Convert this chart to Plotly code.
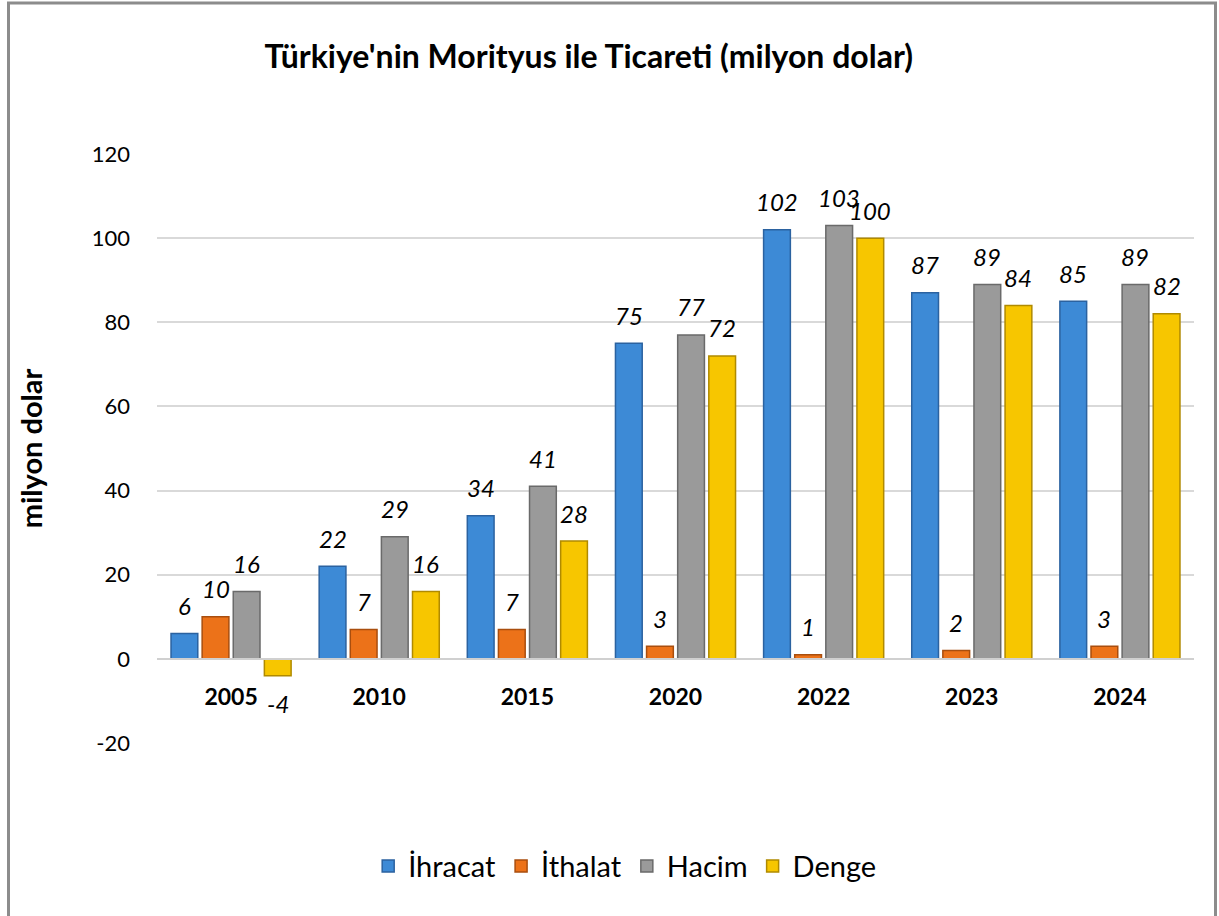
import plotly.graph_objects as go

# data
years = ["2005", "2010", "2015", "2020", "2022", "2023", "2024"]
ihracat = [6, 22, 34, 75, 102, 87, 85]
ithalat = [10, 7, 7, 3, 1, 2, 3]
hacim = [16, 29, 41, 77, 103, 89, 89]
denge = [-4, 16, 28, 72, 100, 84, 82]

series_names = ["İhracat", "İthalat", "Hacim", "Denge"]
series_values = [ihracat, ithalat, hacim, denge]
fill_colors = ["#3D8AD6", "#EC7219", "#9A9A9A", "#F7C600"]
edge_colors = ["#2B62A0", "#A94E0E", "#6A6A6A", "#B08A00"]

y_ticks = [-20, 0, 20, 40, 60, 80, 100, 120]

W, H = 1219, 916
m_l, m_r, m_t, m_b = 157, 25, 154, 173
plot_w = W - m_l - m_r
plot_h = H - m_t - m_b
bargap = 0.16

fig = go.Figure()
for name, vals, fc, ec in zip(series_names, series_values, fill_colors, edge_colors):
    fig.add_trace(go.Bar(
        x=years, y=vals, name=name,
        marker=dict(color=fc, line=dict(color=ec, width=1.5)),
    ))

# value labels: placed on each bar's end, shifted sideways to the bar in its group
# (x given as category index, since "2005" would be read as index 2005)
slot = plot_w / len(years)
bar_slot = slot * (1 - bargap) / len(series_names)
for i, vals in enumerate(series_values):
    off = (i - (len(series_names) - 1) / 2) * bar_slot
    for j, v in enumerate(vals):
        fig.add_annotation(x=j, y=v, text=str(v), showarrow=False,
                           xshift=off, yshift=28 if v >= 0 else -28,
                           font=dict(family="Lato", size=24, color="black", style="italic"))

# y=0 position in paper coords, so the category axis sits on zero like Excel
ymin, ymax = -20, 120
zero_pos = (0 - ymin) / (ymax - ymin)

fig.update_layout(
    width=W, height=H,
    margin=dict(l=m_l, r=m_r, t=m_t, b=m_b, autoexpand=False),
    paper_bgcolor="white", plot_bgcolor="white",
    font=dict(family="Lato", color="black"),
    barmode="group", bargap=bargap, bargroupgap=0.14,
    title=dict(text="<b>Türkiye'nin Morityus ile Ticareti (milyon dolar)</b>",
               x=0.483, xanchor="center", y=0.938, yanchor="middle",
               font=dict(size=32, color="black")),
    legend=dict(orientation="h", x=0.451, xanchor="center", y=-0.209, yanchor="middle",
                font=dict(size=29), traceorder="normal"),
)
fig.update_yaxes(
    range=[ymin, ymax], tickvals=y_ticks, ticktext=[str(t) for t in y_ticks],
    showgrid=True, gridcolor="#D9D9D9", gridwidth=1.5,
    zeroline=False, showline=False, ticks="", automargin=False,
    tickfont=dict(size=22), ticklabelstandoff=26,
    title=dict(text="<b>milyon dolar</b>", font=dict(size=29), standoff=40),
)
fig.update_xaxes(
    type="category", categoryorder="array", categoryarray=years,
    range=[-0.5, len(years) - 0.5],
    anchor="free", position=zero_pos, showline=True, linecolor="#D0D0D0", linewidth=2,
    ticks="", tickfont=dict(size=23, family="Lato"), ticklabelstandoff=18, automargin=False,
    tickvals=years, ticktext=["<b>%s</b>" % y for y in years], showgrid=False,
)

# outer border of the chart box (left, top, right), pixel -> paper coords
def px(x):
    return (x - m_l) / plot_w

def py(y):
    return (H - m_b - y) / plot_h

fig.add_shape(type="path", xref="paper", yref="paper",
              path="M %f %f L %f %f L %f %f L %f %f" % (
                  px(8.5), py(H + 20), px(8.5), py(3), px(1215.5), py(3), px(1215.5), py(H + 20)),
              line=dict(color="#8C8C8C", width=3), layer="above")

fig.write_html("out.html", config={"displayModeBar": False},
               post_script="document.body.style.margin='0';")
